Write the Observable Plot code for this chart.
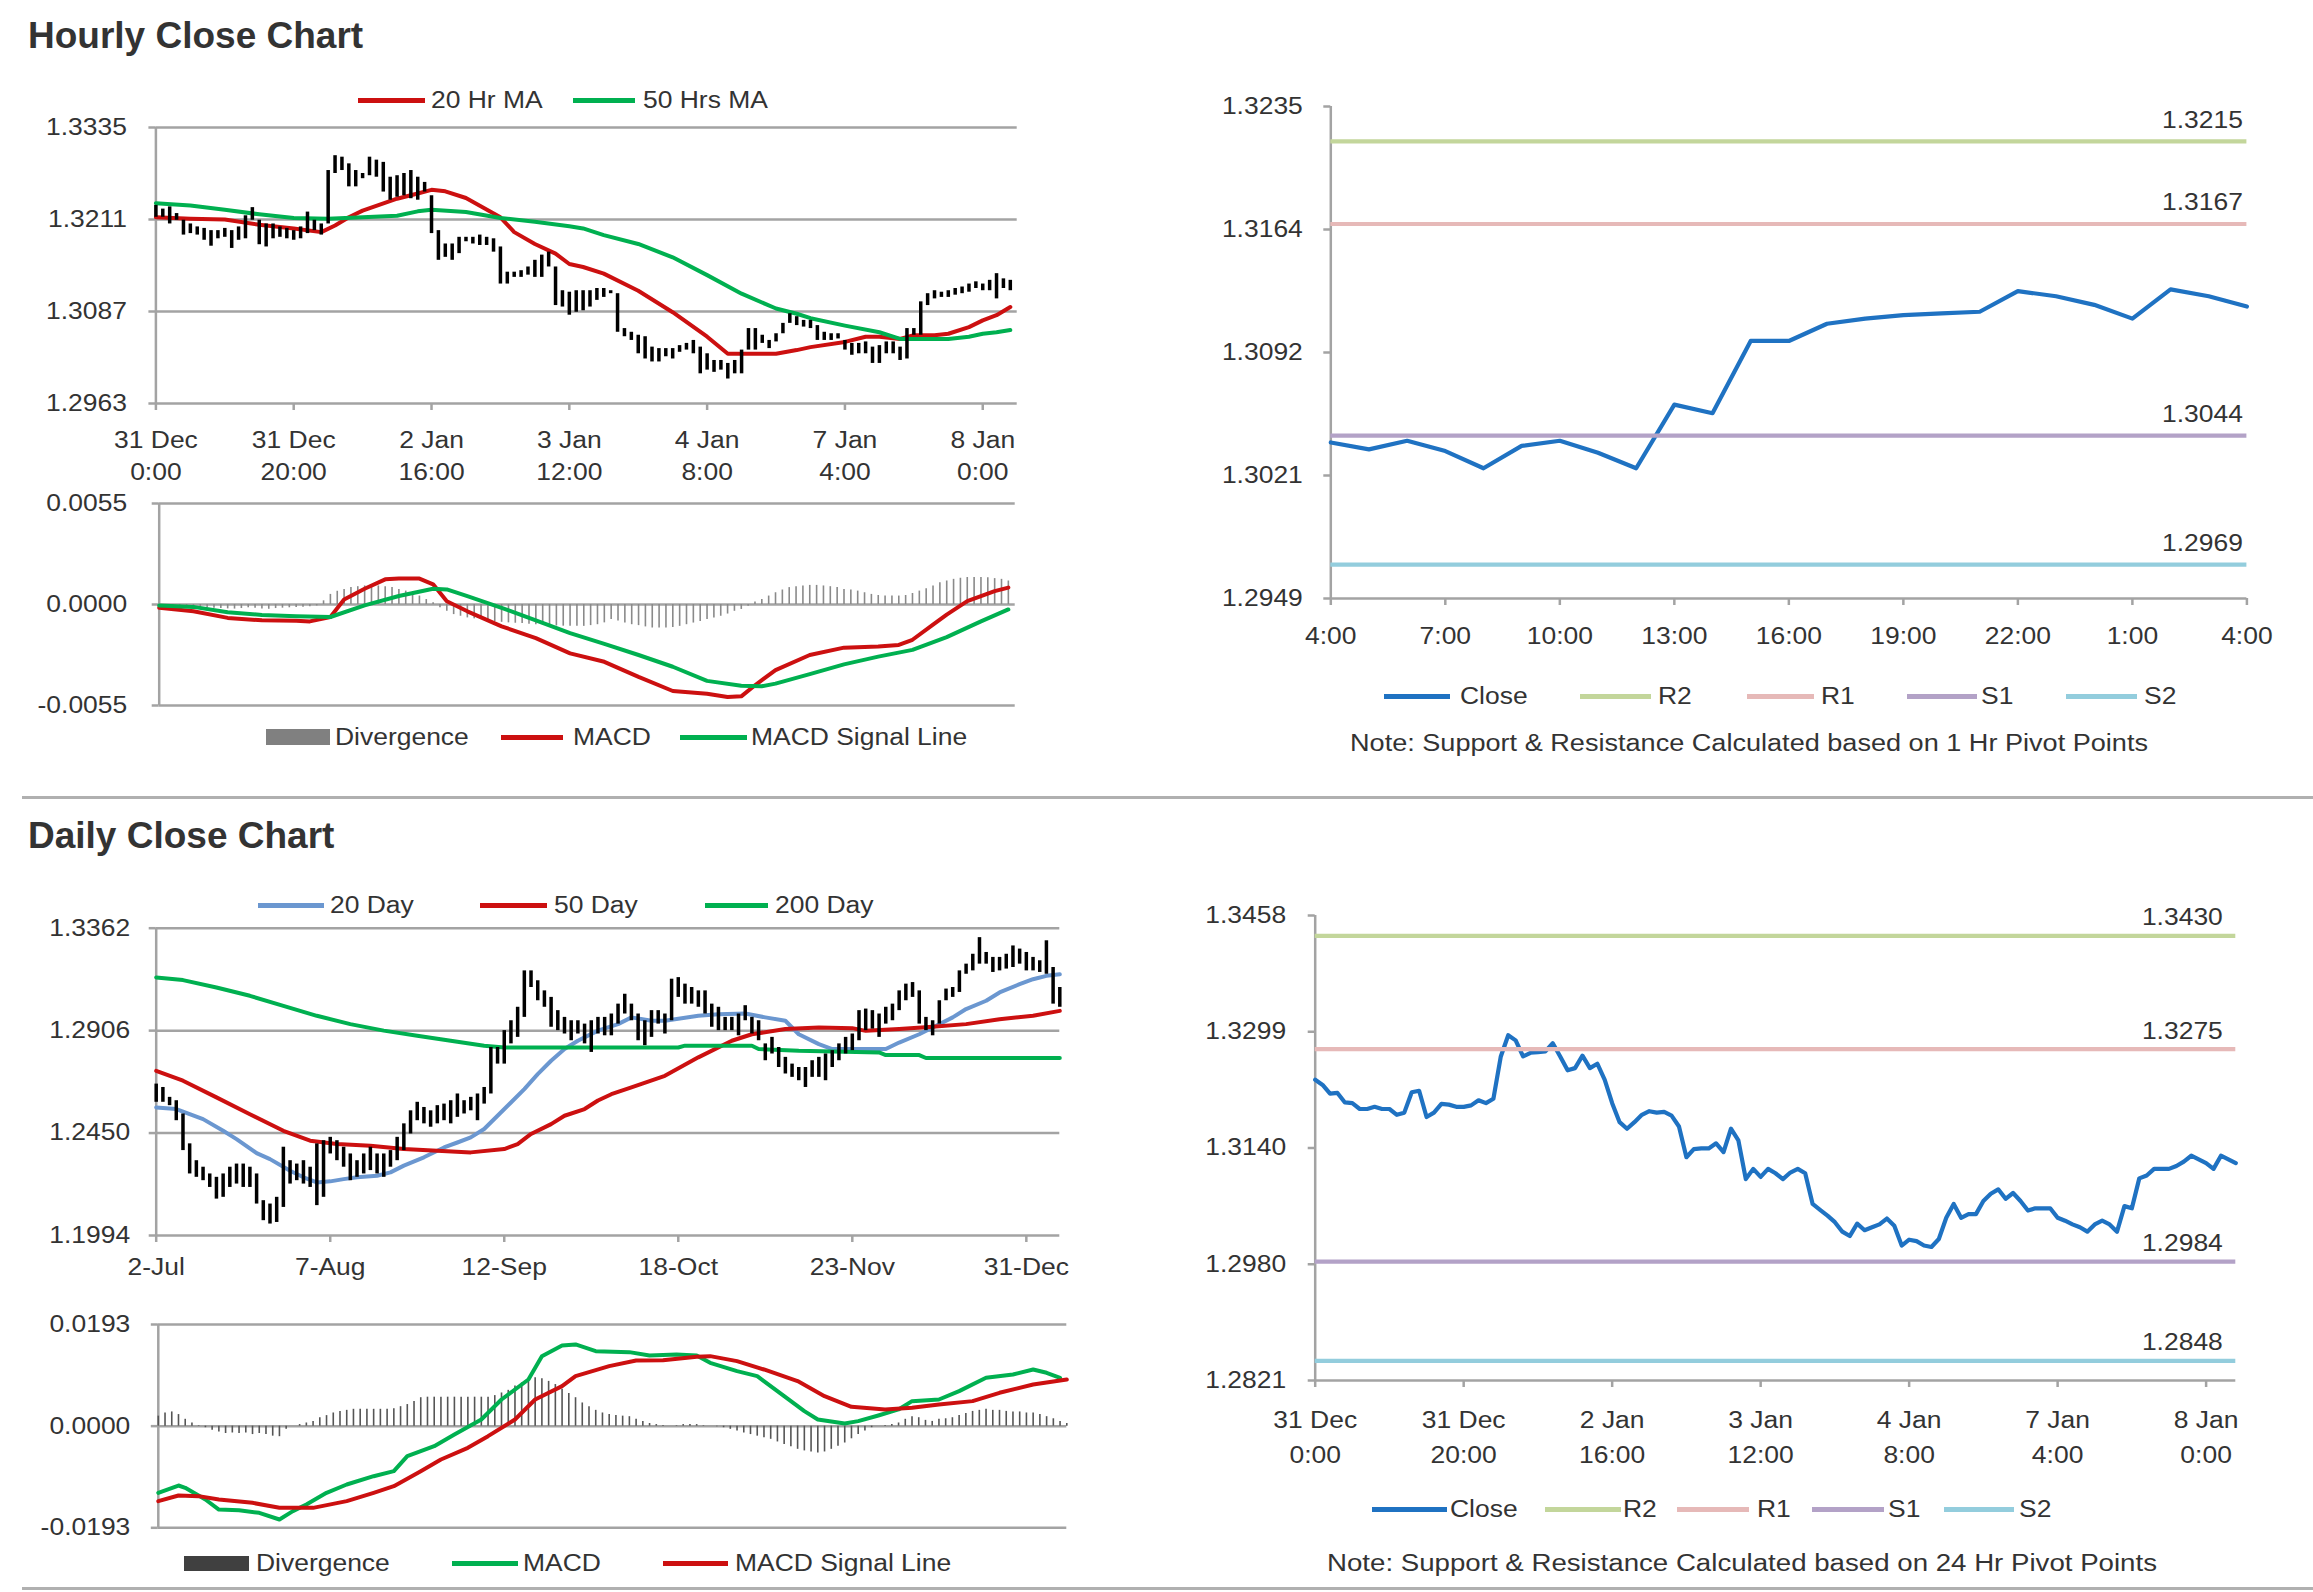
<!DOCTYPE html>
<html>
<head>
<meta charset="utf-8">
<script src="https://cdn.jsdelivr.net/npm/d3@7"></script>
<script src="https://cdn.jsdelivr.net/npm/@observablehq/plot@0.6"></script>
<style>
  html, body { margin: 0; padding: 0; background: #fff; }
  #root { position: relative; width: 2313px; height: 1592px; background: #fff; overflow: hidden; font-family: Arial, 'Liberation Sans', sans-serif; color: #333; }
  .title { position: absolute; font-weight: bold; font-size: 37px; line-height: 1; color: #333; white-space: nowrap; }
  .lg { position: absolute; font-size: 23px; line-height: 23px; white-space: nowrap; transform-origin: left center; color: #333; }
  .sw { position: absolute; }
  .sep { position: absolute; height: 3px; background: #b0b0b0; }
</style>
</head>
<body>
<div id="root"></div>
<script>
// ---------------- DATA ----------------
// Hourly chart (31 Dec 0:00 .. 8 Jan 4:00), one bar per hour (index 0..124)
const hourlyTickIdx = [0, 20, 40, 60, 80, 100, 120];
const hourlyTickLabels = ["31 Dec\n0:00", "31 Dec\n20:00", "2 Jan\n16:00", "3 Jan\n12:00", "4 Jan\n8:00", "7 Jan\n4:00", "8 Jan\n0:00"];
const hourlyTicksY = [1.2963, 1.3087, 1.3211, 1.3335];
const hourlyHigh = [
1.3230,1.3225,1.3228,1.3219,1.3210,1.3205,1.3201,1.3199,1.3196,1.3196,
1.3199,1.3196,1.3201,1.3216,1.3227,1.3210,1.3205,1.3205,1.3201,1.3199,
1.3196,1.3201,1.3221,1.3210,1.3205,1.3277,1.3297,1.3295,1.3286,1.3277,
1.3273,1.3295,1.3291,1.3288,1.3268,1.3270,1.3273,1.3277,1.3268,1.3261,
1.3243,1.3196,1.3178,1.3178,1.3187,1.3187,1.3187,1.3190,1.3187,1.3185,
1.3174,1.3140,1.3140,1.3142,1.3147,1.3156,1.3163,1.3167,1.3147,1.3115,
1.3113,1.3115,1.3115,1.3115,1.3118,1.3118,1.3115,1.3111,1.3064,1.3059,
1.3055,1.3053,1.3039,1.3037,1.3037,1.3037,1.3041,1.3044,1.3048,1.3039,
1.3030,1.3021,1.3021,1.3017,1.3021,1.3035,1.3064,1.3064,1.3055,1.3048,
1.3057,1.3071,1.3084,1.3080,1.3075,1.3075,1.3068,1.3059,1.3057,1.3057,
1.3048,1.3044,1.3044,1.3046,1.3039,1.3041,1.3046,1.3046,1.3039,1.3064,
1.3064,1.3100,1.3111,1.3115,1.3113,1.3115,1.3118,1.3120,1.3124,1.3127,
1.3124,1.3129,1.3138,1.3131,1.3129];
const hourlyLow = [
1.3214,1.3214,1.3205,1.3210,1.3190,1.3192,1.3190,1.3183,1.3175,1.3185,
1.3187,1.3172,1.3183,1.3185,1.3210,1.3177,1.3174,1.3185,1.3187,1.3185,
1.3183,1.3185,1.3192,1.3196,1.3190,1.3205,1.3273,1.3277,1.3255,1.3255,
1.3266,1.3270,1.3268,1.3248,1.3237,1.3241,1.3243,1.3239,1.3237,1.3248,
1.3192,1.3156,1.3160,1.3156,1.3165,1.3181,1.3178,1.3176,1.3176,1.3167,
1.3124,1.3124,1.3133,1.3133,1.3136,1.3133,1.3133,1.3147,1.3095,1.3093,
1.3082,1.3086,1.3088,1.3093,1.3102,1.3106,1.3111,1.3059,1.3053,1.3048,
1.3030,1.3023,1.3019,1.3019,1.3026,1.3023,1.3032,1.3035,1.3030,1.3003,
1.3008,1.3005,1.3008,1.2996,1.3003,1.3003,1.3035,1.3035,1.3044,1.3037,
1.3046,1.3057,1.3071,1.3068,1.3066,1.3064,1.3048,1.3048,1.3048,1.3050,
1.3035,1.3028,1.3030,1.3030,1.3017,1.3017,1.3030,1.3030,1.3021,1.3023,
1.3055,1.3055,1.3095,1.3104,1.3106,1.3106,1.3109,1.3111,1.3113,1.3118,
1.3115,1.3115,1.3104,1.3118,1.3115];
// [hour index, value]
const ma20Hr = [[0,1.3214],[5,1.3212],[10,1.3211],[15,1.3204],[20,1.3199],[24,1.3194],[26,1.3203],[28,1.3214],[30,1.3223],[35,1.3239],[38,1.3246],[40,1.3251],[42,1.3249],[45,1.3240],[50,1.3214],[52,1.3194],[55,1.3178],[58,1.3165],[60,1.3151],[62,1.3147],[65,1.3138],[70,1.3115],[75,1.3086],[80,1.3053],[83,1.3030],[85,1.3030],[90,1.3030],[93,1.3035],[95,1.3039],[100,1.3046],[103,1.3053],[105,1.3053],[108,1.3050],[110,1.3055],[113,1.3055],[115,1.3057],[118,1.3066],[120,1.3075],[122,1.3082],[124,1.3093]];
const ma50Hr = [[0,1.3233],[5,1.3230],[10,1.3224],[15,1.3218],[20,1.3213],[25,1.3212],[30,1.3214],[35,1.3216],[38,1.3222],[40,1.3224],[45,1.3221],[50,1.3213],[55,1.3208],[60,1.3202],[62,1.3199],[65,1.3190],[70,1.3178],[75,1.3160],[80,1.3136],[85,1.3111],[90,1.3091],[93,1.3084],[95,1.3078],[100,1.3068],[105,1.3059],[108,1.3050],[115,1.3050],[118,1.3053],[120,1.3057],[122,1.3059],[124,1.3062]];
const hourlyMacdTicks = [-0.0055, 0, 0.0055];
const hourlyMacd = [[0,-0.00018],[5,-0.00037],[10,-0.00073],[15,-0.00086],[20,-0.00088],[22,-0.00092],[25,-0.00068],[27,0.00027],[30,0.00086],[33,0.00137],[35,0.00141],[38,0.00141],[40,0.0011],[42,0.00018],[45,-0.00037],[50,-0.00119],[55,-0.00183],[60,-0.00266],[65,-0.00312],[70,-0.00394],[75,-0.00471],[80,-0.00486],[83,-0.00504],[85,-0.0050],[87,-0.0044],[90,-0.00357],[95,-0.00275],[100,-0.00235],[105,-0.00229],[108,-0.0022],[110,-0.00192],[113,-0.0011],[115,-0.00055],[118,0.00018],[120,0.00046],[122,0.00073],[124,0.00092]];
const hourlySignal = [[0,-0.00005],[5,-0.00013],[10,-0.00042],[15,-0.00057],[20,-0.00064],[25,-0.00068],[30,-0.00005],[35,0.00046],[40,0.00086],[42,0.00082],[45,0.00046],[50,-0.00018],[55,-0.00086],[60,-0.00156],[65,-0.00214],[70,-0.00275],[75,-0.00339],[80,-0.00416],[85,-0.00442],[88,-0.00445],[90,-0.00431],[95,-0.00379],[100,-0.00326],[105,-0.00284],[110,-0.00247],[115,-0.00178],[120,-0.00092],[124,-0.00027]];
const hourlyDiv = [
0,-0.00002,-0.00004,-0.00006,-0.00008,-0.00012,-0.00015,-0.00018,-0.0002,-0.00022,
-0.00024,-0.00025,-0.00022,-0.00018,-0.0002,-0.00024,-0.00026,-0.00022,-0.0002,-0.00018,
-0.00016,-0.00015,-0.00012,-0.00008,0.0002,0.00055,0.00072,0.00082,0.00092,0.00097,
0.00101,0.00101,0.00101,0.00097,0.00092,0.00082,0.00073,0.0006,0.00046,0.00027,
0.00009,-0.00018,-0.00037,-0.00055,-0.00064,-0.00073,-0.00078,-0.00082,-0.00088,-0.00093,
-0.00097,-0.001,-0.00102,-0.00104,-0.00107,-0.0011,-0.00112,-0.00115,-0.00117,-0.00118,
-0.00119,-0.00119,-0.00119,-0.00115,-0.0011,-0.001,-0.00082,-0.0009,-0.00101,-0.0011,
-0.00115,-0.00122,-0.00128,-0.00128,-0.00128,-0.00125,-0.00119,-0.0011,-0.00101,-0.00092,
-0.00082,-0.00073,-0.00064,-0.00052,-0.00037,-0.00027,-0.00009,0.00013,0.00027,0.00046,
0.00064,0.00079,0.00092,0.00097,0.00101,0.00104,0.00104,0.00101,0.00097,0.00092,
0.00082,0.00079,0.00073,0.00064,0.00055,0.00049,0.00046,0.00046,0.00046,0.00049,
0.0006,0.00073,0.00086,0.00101,0.00119,0.00128,0.00137,0.00143,0.00147,0.00147,
0.00147,0.00145,0.00141,0.00137,0.00128];

// Hourly pivot chart (24 hours, 4:00 .. 4:00)
const pivotHourLabels = ["4:00","5:00","6:00","7:00","8:00","9:00","10:00","11:00","12:00","13:00","14:00","15:00","16:00","17:00","18:00","19:00","20:00","21:00","22:00","23:00","0:00","1:00","2:00","3:00","4:00"];
const pivotHourClose = [1.3040,1.3036,1.3041,1.3035,1.3025,1.3038,1.3041,1.3034,1.3025,1.3062,1.3057,1.3099,1.3099,1.3109,1.3112,1.3114,1.3115,1.3116,1.3128,1.3125,1.3120,1.3112,1.3129,1.3125,1.3119];
const pivotHourTicksY = [1.29493, 1.30208, 1.30923, 1.31638, 1.32353];
const pivotHourLevels = [1.3215, 1.3167, 1.3044, 1.2969]; // R2, R1, S1, S2

// Daily chart (2-Jul .. 8-Jan), one bar per trading day (index 0..135)
const dailyTickIdx = [0, 26, 52, 78, 104, 130];
const dailyTickLabels = ["2-Jul", "7-Aug", "12-Sep", "18-Oct", "23-Nov", "31-Dec"];
const dailyTicksY = [1.1994, 1.2450, 1.2906, 1.3362];
const dailyHigh = [
1.2668,1.2653,1.2609,1.2594,1.2535,1.2402,1.2327,1.2298,1.2268,1.2253,
1.2268,1.2298,1.2312,1.2312,1.2298,1.2268,1.2149,1.2134,1.2164,1.2387,
1.2327,1.2312,1.2327,1.2298,1.2402,1.2416,1.2431,1.2416,1.2387,1.2357,
1.2327,1.2357,1.2387,1.2357,1.2357,1.2372,1.2431,1.2491,1.2549,1.2587,
1.2564,1.2549,1.2572,1.2579,1.2594,1.2624,1.2594,1.2609,1.2624,1.2653,
1.2831,1.2831,1.2906,1.2950,1.3010,1.3172,1.3172,1.3128,1.3083,1.3054,
1.2995,1.2965,1.2950,1.2950,1.2935,1.2950,1.2965,1.2965,1.2980,1.3024,
1.3068,1.3024,1.2980,1.2950,1.2995,1.2995,1.2980,1.3135,1.3142,1.3113,
1.3098,1.3083,1.3083,1.3024,1.3010,1.2965,1.2965,1.2980,1.3017,1.2965,
1.2950,1.2847,1.2876,1.2831,1.2787,1.2757,1.2742,1.2742,1.2772,1.2787,
1.2802,1.2817,1.2847,1.2876,1.2891,1.2995,1.3002,1.2995,1.2980,1.3010,
1.3024,1.3083,1.3113,1.3120,1.3083,1.2965,1.2950,1.3039,1.3091,1.3098,
1.3172,1.3202,1.3246,1.3320,1.3254,1.3232,1.3232,1.3246,1.3283,1.3269,
1.3254,1.3232,1.3217,1.3306,1.3187,1.3098];
const dailyLow = [
1.2587,1.2587,1.2572,1.2505,1.2372,1.2268,1.2253,1.2238,1.2208,1.2156,
1.2164,1.2208,1.2223,1.2208,1.2208,1.2134,1.2060,1.2045,1.2052,1.2119,
1.2223,1.2238,1.2223,1.2208,1.2127,1.2164,1.2357,1.2327,1.2298,1.2238,
1.2253,1.2268,1.2283,1.2268,1.2253,1.2298,1.2327,1.2372,1.2446,1.2505,
1.2491,1.2476,1.2491,1.2505,1.2491,1.2520,1.2535,1.2549,1.2505,1.2579,
1.2624,1.2757,1.2757,1.2847,1.2876,1.2965,1.3098,1.3039,1.3010,1.2921,
1.2906,1.2891,1.2861,1.2891,1.2847,1.2809,1.2891,1.2883,1.2883,1.2935,
1.2980,1.2950,1.2861,1.2839,1.2876,1.2935,1.2891,1.2950,1.3054,1.3024,
1.3024,1.3010,1.2980,1.2921,1.2906,1.2906,1.2906,1.2883,1.2950,1.2891,
1.2861,1.2772,1.2802,1.2742,1.2713,1.2698,1.2683,1.2653,1.2698,1.2698,
1.2683,1.2742,1.2772,1.2802,1.2817,1.2861,1.2906,1.2913,1.2876,1.2935,
1.2950,1.2995,1.3039,1.3054,1.2935,1.2906,1.2883,1.2935,1.3039,1.3054,
1.3076,1.3157,1.3172,1.3202,1.3202,1.3165,1.3172,1.3180,1.3187,1.3202,
1.3172,1.3172,1.3165,1.3157,1.3024,1.3010];
const ma20Day = [[0,1.2564],[3,1.2557],[5,1.2534],[7,1.2512],[10,1.2460],[12,1.2423],[15,1.2361],[17,1.2334],[20,1.2282],[22,1.2253],[24,1.2230],[26,1.2235],[28,1.2245],[30,1.2253],[33,1.2260],[35,1.2275],[37,1.2305],[40,1.2342],[43,1.2386],[45,1.2408],[47,1.2431],[49,1.2468],[51,1.2527],[53,1.2586],[55,1.2646],[57,1.2712],[59,1.2772],[61,1.2824],[63,1.2861],[66,1.2906],[69,1.2935],[71,1.2965],[74,1.2950],[76,1.2950],[81,1.2972],[84,1.2979],[88,1.2982],[91,1.2965],[94,1.2950],[96,1.2890],[99,1.2846],[101,1.2824],[104,1.2824],[109,1.2824],[111,1.2853],[114,1.2890],[116,1.2920],[119,1.2965],[121,1.3002],[124,1.3039],[126,1.3076],[129,1.3113],[131,1.3135],[133,1.3150],[135,1.3157]];
const ma50Day = [[0,1.2727],[4,1.2683],[9,1.2609],[14,1.2534],[19,1.2460],[23,1.2416],[27,1.2401],[32,1.2394],[37,1.2379],[42,1.2371],[47,1.2364],[52,1.2379],[54,1.2401],[56,1.2446],[59,1.2490],[61,1.2527],[64,1.2557],[66,1.2595],[68,1.2623],[71,1.2653],[76,1.2705],[81,1.2787],[86,1.2861],[89,1.2890],[94,1.2913],[99,1.2920],[104,1.2917],[106,1.2905],[111,1.2913],[116,1.2923],[121,1.2935],[126,1.2957],[131,1.2972],[135,1.2994]];
const ma200Day = [[0,1.3143],[4,1.3131],[9,1.3098],[14,1.3061],[19,1.3016],[24,1.2972],[29,1.2935],[34,1.2906],[39,1.2883],[44,1.2861],[49,1.2839],[52,1.2831],[78,1.2831],[79,1.2839],[89,1.2839],[90,1.2824],[96,1.2816],[108,1.2809],[109,1.2797],[114,1.2797],[115,1.2784],[135,1.2784]];
const dailyMacdTicks = [-0.0193, 0, 0.0193];
const dailyMacd = [[0,-0.01266],[3,-0.01127],[4,-0.01171],[7,-0.01393],[9,-0.01583],[12,-0.01595],[15,-0.01646],[18,-0.01772],[20,-0.01614],[22,-0.01488],[25,-0.01266],[28,-0.01108],[32,-0.0095],[35,-0.00855],[37,-0.0057],[41,-0.0038],[44,-0.00158],[48,0.00127],[51,0.00506],[55,0.00886],[57,0.01329],[60,0.01532],[62,0.01551],[65,0.01424],[70,0.01405],[73,0.01342],[77,0.01361],[80,0.01342],[82,0.01203],[86,0.01044],[89,0.0095],[93,0.0057],[96,0.00285],[98,0.00127],[102,0.00051],[104,0.00095],[107,0.00203],[110,0.00317],[112,0.00475],[116,0.00506],[119,0.00665],[123,0.00918],[127,0.00981],[130,0.01076],[132,0.01013],[134,0.00918]];
const dailySignal = [[0,-0.01424],[3,-0.01317],[6,-0.01329],[9,-0.01393],[14,-0.01456],[18,-0.01551],[23,-0.01551],[28,-0.01424],[32,-0.01266],[35,-0.01139],[39,-0.00855],[42,-0.00633],[46,-0.00411],[49,-0.0019],[53,0.00127],[56,0.00506],[60,0.0076],[62,0.0095],[67,0.01139],[71,0.01247],[75,0.01253],[80,0.01317],[82,0.01329],[86,0.01234],[90,0.01076],[95,0.00855],[99,0.0057],[103,0.00367],[108,0.00317],[112,0.00348],[116,0.00411],[121,0.00475],[125,0.00633],[130,0.00791],[135,0.00886]];
const dailyDiv = [
0.0019,0.0025,0.0027,0.0022,0.0013,0.0006,0.0001,-0.0003,-0.0008,-0.0011,
-0.0014,-0.0013,-0.0014,-0.0013,-0.0016,-0.0014,-0.0016,-0.0019,-0.002,-0.0006,
0,0.0003,0.0006,0.0009,0.0016,0.002,0.0025,0.0028,0.003,0.0032,
0.0032,0.0032,0.0032,0.0032,0.0032,0.0033,0.0037,0.0041,0.0047,0.0054,
0.0055,0.0055,0.0055,0.0055,0.0055,0.0055,0.0055,0.0055,0.0055,0.0055,
0.0058,0.0063,0.0068,0.0076,0.0082,0.0089,0.0092,0.009,0.0085,0.0079,
0.007,0.0062,0.0054,0.0044,0.0037,0.003,0.0025,0.0022,0.002,0.0019,
0.0018,0.0013,0.0009,0.0005,0.0003,0.0001,0,0.0001,0.0003,0.0003,
0.0003,0.0001,0,-0.0001,-0.0003,-0.0006,-0.0009,-0.0013,-0.0016,-0.0019,
-0.0022,-0.0025,-0.003,-0.0035,-0.0039,-0.0044,-0.0047,-0.0049,-0.0051,-0.0049,
-0.0044,-0.0038,-0.0032,-0.0024,-0.0016,-0.0009,-0.0003,0,0.0001,0.0003,
0.0006,0.0013,0.0018,0.0016,0.0011,0.0009,0.0013,0.0014,0.0016,0.002,
0.0024,0.0028,0.003,0.0032,0.003,0.003,0.0028,0.0027,0.0027,0.0025,
0.0025,0.0022,0.0018,0.0014,0.0009,0.0005];

// Daily pivot chart: hourly closes 31 Dec 0:00 .. 8 Jan 4:00
const pivotDayClose = [
1.3233,1.3226,1.3214,1.3215,1.3202,1.3201,1.3193,1.3193,1.3196,1.3193,
1.3193,1.3185,1.3188,1.3216,1.3218,1.3182,1.3188,1.3200,1.3199,1.3196,
1.3196,1.3198,1.3205,1.3201,1.3207,1.3265,1.3294,1.3287,1.3265,1.3270,
1.3271,1.3272,1.3283,1.3265,1.3246,1.3249,1.3266,1.3249,1.3255,1.3233,
1.3201,1.3175,1.3166,1.3175,1.3185,1.3190,1.3188,1.3189,1.3184,1.3169,
1.3127,1.3138,1.3139,1.3139,1.3146,1.3134,1.3166,1.3150,1.3097,1.3111,
1.3100,1.3111,1.3105,1.3097,1.3106,1.3111,1.3105,1.3063,1.3055,1.3047,
1.3038,1.3025,1.3019,1.3036,1.3027,1.3031,1.3035,1.3043,1.3033,1.3006,
1.3014,1.3012,1.3006,1.3004,1.3015,1.3044,1.3063,1.3044,1.3049,1.3049,
1.3067,1.3077,1.3083,1.3070,1.3078,1.3067,1.3054,1.3057,1.3057,1.3057,
1.3044,1.3040,1.3035,1.3031,1.3025,1.3035,1.3040,1.3035,1.3025,1.3060,
1.3057,1.3098,1.3102,1.3111,1.3111,1.3111,1.3115,1.3121,1.3129,1.3124,
1.3119,1.3111,1.3129,1.3124,1.3119];
const pivotDayTicksY = [1.28212, 1.29804, 1.31396, 1.32988, 1.3458];
const pivotDayLevels = [1.3430, 1.3275, 1.2984, 1.2848]; // R2, R1, S1, S2
const levelNames = ["R2", "R1", "S1", "S2"];

// ---------------- STYLE ----------------
const FONT = "Arial, 'Liberation Sans', sans-serif";
const GRID = "#a3a3a3";
const TXT = "#333333";
const RED = "#cc1010";
const GREEN = "#00b050";
const BLUE20 = "#6b97d0";
const CLOSE = "#1f72c2";
const LEVEL_COLORS = ["#c3d69b", "#e6b9b8", "#b3a2c7", "#93cddd"];
const STRETCH = 1.15;

const root = document.getElementById("root");
const f4 = d => d.toFixed(4);
const pts = arr => arr.map(([i, v]) => ({i, v}));
const seq = arr => arr.map((v, i) => ({i, v}));

function style() {
  return {fontFamily: FONT, fontSize: "23px", color: TXT, background: "transparent", overflow: "visible"};
}
function place(node, left, top) {
  node.style.position = "absolute";
  node.style.left = left + "px";
  node.style.top = top + "px";
  root.appendChild(node);
  return node;
}
function stretchSvgText(svg, k) {
  svg.querySelectorAll("text").forEach(t => {
    const spans = t.querySelectorAll("tspan");
    const els = spans.length ? Array.from(spans) : [t];
    for (const el of els) {
      const w = el.getComputedTextLength();
      if (w > 0) {
        el.setAttribute("textLength", (w * k).toFixed(1));
        el.setAttribute("lengthAdjust", "spacingAndGlyphs");
      }
    }
  });
}
function addText(cls, text, left, top, scale) {
  const d = document.createElement("div");
  d.className = cls;
  d.textContent = text;
  d.style.left = left + "px";
  d.style.top = top + "px";
  if (scale) d.style.transform = `scaleX(${scale})`;
  root.appendChild(d);
  return d;
}
function legend(cy, items) {
  for (const it of items) {
    const s = document.createElement("div");
    s.className = "sw";
    const h = it.box ? it.h : 5;
    s.style.left = it.x0 + "px";
    s.style.width = (it.x1 - it.x0) + "px";
    s.style.top = (cy - h / 2) + "px";
    s.style.height = h + "px";
    s.style.background = it.color;
    root.appendChild(s);
    addText("lg", it.text, it.tx, cy - 11.5, STRETCH);
  }
}
function fitText(text, left, right, cy) {
  const d = addText("lg", text, left, cy - 11.5, null);
  const w = d.getBoundingClientRect().width;
  d.style.transform = `scaleX(${(right - left) / w})`;
}

// ---------------- TITLES & SEPARATORS ----------------
addText("title", "Hourly Close Chart", 28, 17);
addText("title", "Daily Close Chart", 28, 817);
const sep1 = document.createElement("div"); sep1.className = "sep";
sep1.style.left = "22px"; sep1.style.width = "2291px"; sep1.style.top = "796px"; root.appendChild(sep1);
const sep2 = document.createElement("div"); sep2.className = "sep";
sep2.style.left = "22px"; sep2.style.width = "2291px"; sep2.style.top = "1587px"; root.appendChild(sep2);

const svgs = [];

// ---------------- PANEL 1: hourly price ----------------
const hourlyBars = hourlyHigh.map((h, i) => ({i, high: h, low: hourlyLow[i]}));
svgs.push(place(Plot.plot({
  width: 1040, height: 385,
  marginLeft: 155.4, marginRight: 23.3, marginTop: 27, marginBottom: 82,
  x: {domain: [0, 125], label: null},
  y: {domain: [1.2963, 1.3335], label: null},
  style: style(),
  marks: [
    Plot.gridY(hourlyTicksY, {stroke: GRID, strokeOpacity: 1, strokeWidth: 2.5}),
    Plot.axisY(hourlyTicksY, {tickSize: 7, tickPadding: 22, stroke: GRID, strokeWidth: 2.5, tickFormat: f4, label: null}),
    Plot.axisX(hourlyTickIdx, {tickSize: 7, tickPadding: 15, stroke: GRID, strokeWidth: 2.5, lineHeight: 1.38,
      tickFormat: d => hourlyTickLabels[hourlyTickIdx.indexOf(d)], label: null}),
    Plot.ruleX([0], {stroke: GRID, strokeWidth: 2.5}),
    Plot.line(pts(ma20Hr), {x: "i", y: "v", stroke: RED, strokeWidth: 4}),
    Plot.line(pts(ma50Hr), {x: "i", y: "v", stroke: GREEN, strokeWidth: 4}),
    Plot.ruleX(hourlyBars, {x: "i", y1: "low", y2: "high", stroke: "#000", strokeWidth: 3.5})
  ]
}), 0, 100));
legend(100, [
  {color: RED, x0: 358, x1: 425, text: "20 Hr MA", tx: 431},
  {color: GREEN, x0: 573, x1: 635, text: "50 Hrs MA", tx: 643}
]);

// ---------------- PANEL 2: hourly MACD ----------------
svgs.push(place(Plot.plot({
  width: 1040, height: 230,
  marginLeft: 158.7, marginRight: 25.3, marginTop: 13, marginBottom: 15,
  x: {domain: [0, 125], axis: null, label: null},
  y: {domain: [-0.0055, 0.0055], label: null},
  style: style(),
  marks: [
    Plot.gridY(hourlyMacdTicks, {stroke: GRID, strokeOpacity: 1, strokeWidth: 2.5}),
    Plot.axisY(hourlyMacdTicks, {tickSize: 7, tickPadding: 25, stroke: GRID, strokeWidth: 2.5, tickFormat: f4, label: null}),
    Plot.ruleX([0], {stroke: GRID, strokeWidth: 2.5}),
    Plot.ruleX(seq(hourlyDiv), {x: "i", y1: 0, y2: "v", stroke: "#8a8a8a", strokeWidth: 1.6}),
    Plot.line(pts(hourlyMacd), {x: "i", y: "v", stroke: RED, strokeWidth: 4}),
    Plot.line(pts(hourlySignal), {x: "i", y: "v", stroke: GREEN, strokeWidth: 4})
  ]
}), 0, 490));
legend(737, [
  {box: true, h: 16, color: "#808080", x0: 266, x1: 329.5, text: "Divergence", tx: 335},
  {color: RED, x0: 501, x1: 563, text: "MACD", tx: 573},
  {color: GREEN, x0: 680, x1: 747, text: "MACD Signal Line", tx: 751}
]);

// ---------------- PANEL 3: hourly pivot ----------------
const pivotHourIdx = [0, 3, 6, 9, 12, 15, 18, 21, 24];
svgs.push(place(Plot.plot({
  width: 1130, height: 600,
  marginLeft: 180.3, marginRight: 33.6, marginTop: 46, marginBottom: 62,
  x: {domain: [0, 24], label: null},
  y: {domain: [1.29493, 1.32353], label: null},
  style: style(),
  marks: [
    Plot.axisY(pivotHourTicksY, {tickSize: 7, tickPadding: 21, stroke: GRID, strokeWidth: 2.5, tickFormat: f4, label: null}),
    Plot.axisX(pivotHourIdx, {tickSize: 7, tickPadding: 22, stroke: GRID, strokeWidth: 2.5,
      tickFormat: d => pivotHourLabels[d], label: null}),
    Plot.ruleX([0], {stroke: GRID, strokeWidth: 2.5}),
    Plot.ruleY([1.29493], {stroke: GRID, strokeWidth: 2.5}),
    Plot.line(seq(pivotHourClose), {x: "i", y: "v", stroke: CLOSE, strokeWidth: 4.2}),
    Plot.ruleY(pivotHourLevels, {y: d => d, stroke: (d, i) => levelNames[i], strokeWidth: 4.2}),
    Plot.text(pivotHourLevels, {y: d => d, text: f4, frameAnchor: "right", textAnchor: "end", dx: -4, dy: -21, fill: TXT})
  ],
  color: {domain: levelNames, range: LEVEL_COLORS}
}), 1150, 60));
legend(696, [
  {color: CLOSE, x0: 1384, x1: 1450, text: "Close", tx: 1460},
  {color: LEVEL_COLORS[0], x0: 1580, x1: 1651, text: "R2", tx: 1658},
  {color: LEVEL_COLORS[1], x0: 1747, x1: 1814, text: "R1", tx: 1821},
  {color: LEVEL_COLORS[2], x0: 1907, x1: 1977, text: "S1", tx: 1981},
  {color: LEVEL_COLORS[3], x0: 2066, x1: 2137, text: "S2", tx: 2144}
]);
fitText("Note: Support & Resistance Calculated based on 1 Hr Pivot Points", 1350, 2148, 743);

// ---------------- PANEL 4: daily price ----------------
const dailyBars = dailyHigh.map((h, i) => ({i, high: h, low: dailyLow[i]}));
svgs.push(place(Plot.plot({
  width: 1090, height: 410,
  marginLeft: 155.7, marginRight: 30.7, marginTop: 47.7, marginBottom: 55,
  x: {domain: [0, 135], label: null},
  y: {domain: [1.1994, 1.3362], label: null},
  style: style(),
  marks: [
    Plot.gridY(dailyTicksY, {stroke: GRID, strokeOpacity: 1, strokeWidth: 2.5}),
    Plot.axisY(dailyTicksY, {tickSize: 7, tickPadding: 19, stroke: GRID, strokeWidth: 2.5, tickFormat: f4, label: null}),
    Plot.axisX(dailyTickIdx, {tickSize: 7, tickPadding: 16, stroke: GRID, strokeWidth: 2.5,
      tickFormat: d => dailyTickLabels[dailyTickIdx.indexOf(d)], label: null}),
    Plot.ruleX([0], {stroke: GRID, strokeWidth: 2.5}),
    Plot.line(pts(ma20Day), {x: "i", y: "v", stroke: BLUE20, strokeWidth: 4}),
    Plot.line(pts(ma50Day), {x: "i", y: "v", stroke: RED, strokeWidth: 4}),
    Plot.line(pts(ma200Day), {x: "i", y: "v", stroke: GREEN, strokeWidth: 4}),
    Plot.ruleX(dailyBars, {x: "i", y1: "low", y2: "high", stroke: "#000", strokeWidth: 3.5})
  ]
}), 0, 880));
legend(905, [
  {color: BLUE20, x0: 258, x1: 324, text: "20 Day", tx: 330},
  {color: RED, x0: 480, x1: 547, text: "50 Day", tx: 554},
  {color: GREEN, x0: 705, x1: 768, text: "200 Day", tx: 775}
]);

// ---------------- PANEL 5: daily MACD ----------------
svgs.push(place(Plot.plot({
  width: 1090, height: 240,
  marginLeft: 157.8, marginRight: 23.7, marginTop: 19, marginBottom: 17.7,
  x: {domain: [0, 135], axis: null, label: null},
  y: {domain: [-0.0193, 0.0193], label: null},
  style: style(),
  marks: [
    Plot.gridY(dailyMacdTicks, {stroke: GRID, strokeOpacity: 1, strokeWidth: 2.5}),
    Plot.axisY(dailyMacdTicks, {tickSize: 7, tickPadding: 21, stroke: GRID, strokeWidth: 2.5, tickFormat: f4, label: null}),
    Plot.ruleX([0], {stroke: GRID, strokeWidth: 2.5}),
    Plot.ruleX(seq(dailyDiv), {x: "i", y1: 0, y2: "v", stroke: "#555", strokeWidth: 1.6}),
    Plot.line(pts(dailyMacd), {x: "i", y: "v", stroke: GREEN, strokeWidth: 4}),
    Plot.line(pts(dailySignal), {x: "i", y: "v", stroke: RED, strokeWidth: 4})
  ]
}), 0, 1305));
legend(1563, [
  {box: true, h: 15, color: "#404040", x0: 184, x1: 249, text: "Divergence", tx: 256},
  {color: GREEN, x0: 452, x1: 518, text: "MACD", tx: 523},
  {color: RED, x0: 663, x1: 728, text: "MACD Signal Line", tx: 735}
]);

// ---------------- PANEL 6: daily pivot ----------------
svgs.push(place(Plot.plot({
  width: 1130, height: 620,
  marginLeft: 164.7, marginRight: 44.7, marginTop: 45, marginBottom: 110,
  x: {domain: [0, 124], label: null},
  y: {domain: [1.28212, 1.3458], label: null},
  style: style(),
  marks: [
    Plot.axisY(pivotDayTicksY, {tickSize: 7, tickPadding: 22, stroke: GRID, strokeWidth: 2.5, tickFormat: f4, label: null}),
    Plot.axisX(hourlyTickIdx, {tickSize: 7, tickPadding: 16, stroke: GRID, strokeWidth: 2.5, lineHeight: 1.52,
      tickFormat: d => hourlyTickLabels[hourlyTickIdx.indexOf(d)], label: null}),
    Plot.ruleX([0], {stroke: GRID, strokeWidth: 2.5}),
    Plot.ruleY([1.28212], {stroke: GRID, strokeWidth: 2.5}),
    Plot.line(seq(pivotDayClose), {x: "i", y: "v", stroke: CLOSE, strokeWidth: 4.2}),
    Plot.ruleY(pivotDayLevels, {y: d => d, stroke: (d, i) => levelNames[i], strokeWidth: 4.2}),
    Plot.text(pivotDayLevels, {y: d => d, text: f4, frameAnchor: "right", textAnchor: "end", dx: -13, dy: -18, fill: TXT})
  ],
  color: {domain: levelNames, range: LEVEL_COLORS}
}), 1150, 870));
legend(1509, [
  {color: CLOSE, x0: 1372, x1: 1447, text: "Close", tx: 1450},
  {color: LEVEL_COLORS[0], x0: 1545, x1: 1621, text: "R2", tx: 1623},
  {color: LEVEL_COLORS[1], x0: 1677, x1: 1749, text: "R1", tx: 1757},
  {color: LEVEL_COLORS[2], x0: 1812, x1: 1884, text: "S1", tx: 1888},
  {color: LEVEL_COLORS[3], x0: 1944, x1: 2014, text: "S2", tx: 2019}
]);
fitText("Note: Support & Resistance Calculated based on 24 Hr Pivot Points", 1327, 2157, 1563);

svgs.forEach(s => stretchSvgText(s, STRETCH));
</script>
</body>
</html>
